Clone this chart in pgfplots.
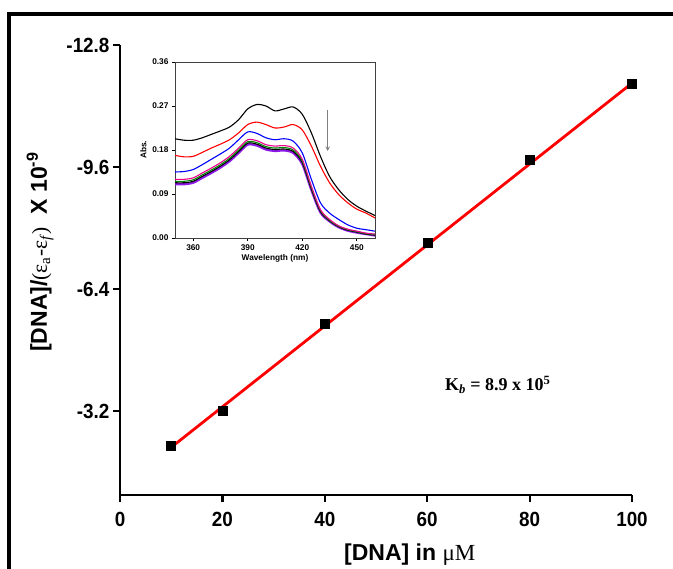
\documentclass[border=0pt]{standalone}
\usepackage{fontspec}
\setmainfont{Liberation Sans}
\newfontfamily\timesf{Liberation Serif}
\newfontfamily\narrowf{Liberation Sans}[FakeStretch=0.92]
\usepackage{pgfplots}
\pgfplotsset{compat=1.18}
\usepackage{pgfplotstable}
\definecolor{dgreen}{rgb}{0,0.5,0}
\definecolor{dpurple}{rgb}{0.55,0.1,0.9}
\pgfplotstableread{
x y
10 -2.28
20 -3.22
40 -5.48
60 -7.61
80 -9.78
100 -11.78
}\maindata
\pgfplotstableread{
x y
10 -2.25
100 -11.80
}\fitdata
\pgfplotstableread{
x k r b m g d p
350 .203 .169 .135 .120 .116 .113 .110
355 .200 .166 .136 .120 .116 .113 .110
360 .200 .167 .140 .123 .119 .116 .113
365 .205 .175 .150 .133 .129 .126 .123
370 .212 .184 .161 .143 .139 .136 .133
375 .219 .192 .172 .154 .150 .147 .144
380 .227 .201 .184 .167 .163 .160 .157
385 .242 .215 .201 .184 .180 .177 .174
390 .264 .232 .217 .201 .197 .194 .191
395 .273 .237 .214 .199 .195 .192 .189
400 .270 .232 .205 .191 .187 .184 .181
405 .260 .225 .201 .188 .184 .181 .178
410 .264 .227 .203 .189 .185 .182 .179
415 .268 .232 .198 .184 .180 .177 .174
420 .253 .221 .174 .161 .157 .154 .151
425 .215 .188 .120 .106 .103 .100 .098
430 .167 .147 .072 .058 .056 .054 .052
435 .126 .113 .051 .038 .036 .035 .034
440 .099 .089 .038 .025 .024 .023 .022
445 .079 .072 .027 .018 .017 .016 .015
450 .065 .059 .020 .014 .013 .012 .011
455 .055 .051 .017 .010 .009 .008 .008
460 .046 .041 .014 .008 .007 .006 .005
}\spec
\begin{document}
\begin{tikzpicture}
\useasboundingbox (0pt,0pt) rectangle (673pt,569pt);
\draw[line width=3.5pt] (9pt,-10pt) -- (9pt,555pt) -- (690pt,555pt);
\begin{axis}[at={(120pt,74pt)}, anchor=south west,
  width=512pt, height=450pt, scale only axis,
  xmin=0, xmax=100, ymin=-12.8, ymax=-1.0, y dir=reverse,
  axis x line*=bottom, axis y line*=left,
  axis line style={line width=2.2pt,-},
  tick align=outside, major tick length=7pt,
  tick style={line width=2.2pt,black},
  xtick={0,20,40,60,80,100}, xticklabels={0,20,40,60,80,100},
  ytick={-12.8,-9.6,-6.4,-3.2}, yticklabels={-12.8,-9.6,-6.4,-3.2},
  ticklabel style={font=\narrowf\fontsize{20.5}{21}\selectfont\bfseries},
  xticklabel style={yshift=-7pt},
  clip=false,
  xlabel={\bfseries [DNA] in {\timesf\mdseries μM}},
  xlabel style={font=\fontsize{23}{23}\selectfont, at={(axis cs:56.6,0.57)}, anchor=center},
  ylabel={\bfseries [DNA]/{\timesf\mdseries\fontsize{21.5}{21.5}\selectfont(ε\textsubscript{a}-ε\textsubscript{\textit{f}})}\ \ X 10\textsuperscript{-9}},
  ylabel style={font=\fontsize{23}{23}\selectfont, at={(axis cs:-15.6,-7.37)}, anchor=center},
]
\addplot[only marks, mark=square*, mark size=4.5pt, black] table[x=x,y=y]{\maindata};
\addplot[red, line width=2.8pt] table[x=x,y=y]{\fitdata};
\node[font=\timesf\bfseries\fontsize{18}{18}\selectfont] at (axis cs:73.8,-3.88) {K\textsubscript{\textit{b}} = 8.9 x 10\textsuperscript{5}};
\end{axis}
\begin{axis}[at={(175pt,331pt)}, anchor=south west,
  width=200pt, height=176pt, scale only axis,
  xmin=350, xmax=460, ymin=0, ymax=0.36,
  xtick={360,390,420,450}, xticklabels={360,390,420,450},
  ytick={0,0.09,0.18,0.27,0.36}, yticklabels={0.00,0.09,0.18,0.27,0.36},
  tick align=outside, major tick length=3pt,
  xtick pos=bottom, ytick pos=left,
  tick style={line width=0.8pt,black},
  axis line style={line width=0.8pt,black!75},
  ticklabel style={font=\fontsize{8.3}{9}\selectfont\bfseries},
  xlabel={Wavelength (nm)}, ylabel={Abs.},
  label style={font=\fontsize{8.3}{9}\selectfont\bfseries},
  xlabel style={yshift=3pt}, ylabel style={yshift=-1pt},
]
\addplot[dpurple, line width=2.2pt, smooth] table[x=x,y=p]{\spec};
\addplot[black, line width=1.1pt, smooth] table[x=x,y=d]{\spec};
\addplot[dgreen, line width=1.1pt, smooth] table[x=x,y=g]{\spec};
\addplot[magenta, line width=1.1pt, smooth] table[x=x,y=m]{\spec};
\addplot[blue, line width=1.1pt, smooth] table[x=x,y=b]{\spec};
\addplot[red, line width=1.1pt, smooth] table[x=x,y=r]{\spec};
\addplot[black, line width=1.1pt, smooth] table[x=x,y=k]{\spec};
\draw[gray, line width=1pt, -stealth] (axis cs:434,0.262) -- (axis cs:434,0.178);
\end{axis}
\end{tikzpicture}
\end{document}
